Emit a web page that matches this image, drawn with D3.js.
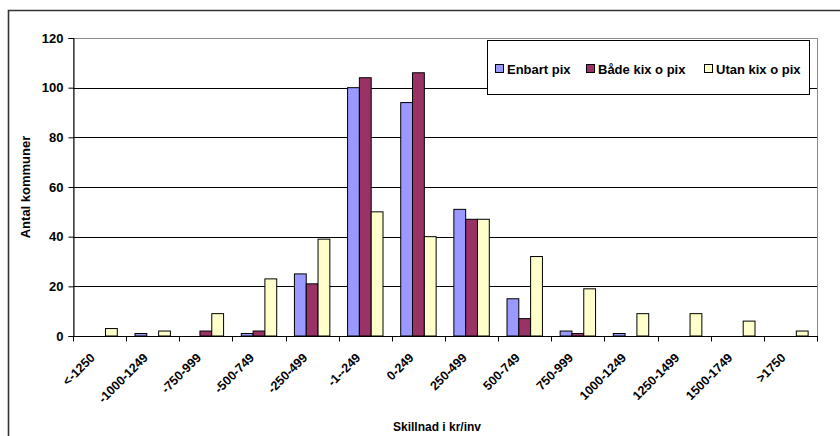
<!DOCTYPE html>
<html>
<head>
<meta charset="utf-8">
<script src="https://cdn.jsdelivr.net/npm/d3@7"></script>
<style>
  html, body { margin: 0; padding: 0; background: #fff; }
  svg { display: block; font-family: "Liberation Sans", Arial, sans-serif; }
</style>
</head>
<body>
<svg id="chart" width="840" height="436"></svg>
<script>
// Kostnadsskillnad per invånare, antal kommuner per intervall
const categories = ["<-1250", "-1000-1249", "-750-999", "-500-749", "-250-499", "-1--249",
  "0-249", "250-499", "500-749", "750-999", "1000-1249", "1250-1499", "1500-1749", ">1750"];
const seriesNames = ["Enbart pix", "Både kix o pix", "Utan kix o pix"];
const enbartPix = [0, 1, 0, 1, 25, 100, 94, 51, 15, 2, 1, 0, 0, 0];
const badeKixOPix = [0, 0, 2, 2, 21, 104, 106, 47, 7, 1, 0, 0, 0, 0];
const utanKixOPix = [3, 2, 9, 23, 39, 50, 40, 47, 32, 19, 9, 9, 6, 2];
const yTicks = [0, 20, 40, 60, 80, 100, 120];
const colors = ["#9999FF", "#993366", "#FFFFCC"];

const seriesValues = [enbartPix, badeKixOPix, utanKixOPix];

const svg = d3.select("#chart");
const plot = { left: 73, right: 817, top: 38, bottom: 336 };

// Outer chart frame (open to the right and bottom)
svg.append("path")
  .attr("d", "M8.5,436 V10.5 H840")
  .attr("fill", "none").attr("stroke", "#333").attr("stroke-width", 1.6);

const x = d3.scaleBand().domain(categories).range([plot.left, plot.right]).padding(0);
const bw = x.bandwidth();
// gap width 150% of a bar
const barW = bw / 4.5;
const xs = d3.scaleBand().domain(d3.range(seriesNames.length))
  .range([barW * 0.75, barW * 3.75]).padding(0);
const y = d3.scaleLinear().domain([0, 120]).range([plot.bottom, plot.top]);

// Plot area border
svg.append("rect")
  .attr("x", plot.left + 0.5).attr("y", plot.top + 0.5)
  .attr("width", plot.right - plot.left).attr("height", plot.bottom - plot.top)
  .attr("fill", "none").attr("stroke", "#8c8c8c").attr("stroke-width", 1);

// Horizontal gridlines
svg.append("g").selectAll("line")
  .data(yTicks.filter(v => v > 0 && v < 120))
  .join("line")
  .attr("x1", plot.left).attr("x2", plot.right)
  .attr("y1", d => Math.round(y(d)) + 0.5).attr("y2", d => Math.round(y(d)) + 0.5)
  .attr("stroke", "#000").attr("stroke-width", 1);

// Bars
const groups = svg.append("g").selectAll("g")
  .data(categories)
  .join("g")
  .attr("transform", d => `translate(${x(d)},0)`);

groups.selectAll("rect")
  .data((d, i) => seriesValues.map((vals, s) => ({ s, v: vals[i] })))
  .join("rect")
  .filter(d => d.v > 0)
  .attr("x", d => xs(d.s))
  .attr("width", xs.bandwidth())
  .attr("y", d => y(d.v))
  .attr("height", d => y(0) - y(d.v))
  .attr("fill", d => colors[d.s])
  .attr("stroke", "#000")
  .attr("stroke-width", 1);

// Y axis
const yAxis = d3.axisLeft(y).tickValues(yTicks).tickSize(5).tickPadding(5);
const gy = svg.append("g")
  .attr("transform", `translate(${plot.left + 0.5},0)`)
  .call(yAxis);
gy.select(".domain").attr("stroke", "#000");
gy.selectAll(".tick line").attr("stroke", "#000");
gy.selectAll(".tick text")
  .attr("font-size", 13).attr("font-weight", "bold").attr("fill", "#000")
  .attr("font-family", "Liberation Sans, Arial, sans-serif");

// X axis: ticks at category boundaries
const xAxisG = svg.append("g").attr("transform", `translate(0,${plot.bottom + 0.5})`);
xAxisG.append("line")
  .attr("x1", plot.left).attr("x2", plot.right + 1)
  .attr("stroke", "#000");
xAxisG.selectAll("line.tick")
  .data(categories.concat(["end"]))
  .join("line")
  .attr("class", "tick")
  .attr("x1", (d, i) => Math.round(plot.left + i * bw) + 0.5)
  .attr("x2", (d, i) => Math.round(plot.left + i * bw) + 0.5)
  .attr("y1", 0).attr("y2", 5)
  .attr("stroke", "#000");

xAxisG.selectAll("text")
  .data(categories)
  .join("text")
  .attr("transform", d => `translate(${x(d) + bw / 2 - 4},${22}) rotate(-45)`)
  .attr("text-anchor", "end")
  .attr("font-size", 12.5).attr("font-weight", "bold").attr("fill", "#000")
  .text(d => d);

// Axis titles
svg.append("text")
  .attr("transform", `translate(30,${(plot.top + plot.bottom) / 2}) rotate(-90)`)
  .attr("text-anchor", "middle")
  .attr("font-size", 13).attr("font-weight", "bold")
  .text("Antal kommuner");

svg.append("text")
  .attr("x", 437).attr("y", 431)
  .attr("text-anchor", "middle")
  .attr("font-size", 12).attr("font-weight", "bold")
  .text("Skillnad i kr/inv");

// Legend
const legend = svg.append("g");
legend.append("rect")
  .attr("x", 487.5).attr("y", 40.5).attr("width", 322).attr("height", 54)
  .attr("fill", "#fff").attr("stroke", "#000").attr("stroke-width", 1);
const legendX = [495, 586, 704];
const items = legend.selectAll("g.item")
  .data(seriesNames)
  .join("g")
  .attr("class", "item")
  .attr("transform", (d, i) => `translate(${legendX[i]},0)`);
items.append("rect")
  .attr("x", 0.5).attr("y", 64.5).attr("width", 8).attr("height", 8)
  .attr("fill", (d, i) => colors[i]).attr("stroke", "#000");
items.append("text")
  .attr("x", 12).attr("y", 73.5)
  .attr("font-size", 13).attr("font-weight", "bold")
  .text(d => d);
</script>
</body>
</html>
